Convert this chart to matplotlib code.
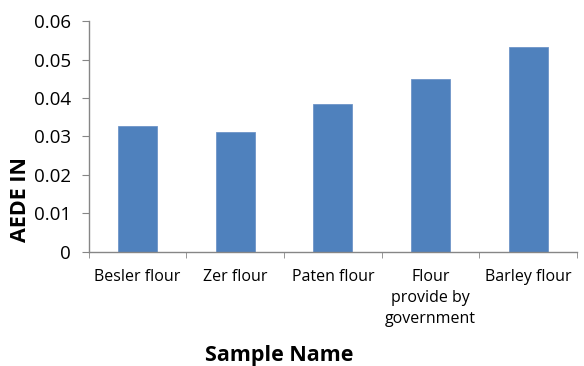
import matplotlib.pyplot as plt
import numpy as np

# AEDE values per flour sample
samples = ["Besler flour", "Zer flour", "Paten flour",
           "Flour\nprovide by\ngovernment", "Barley flour"]
aede = [0.0326, 0.0311, 0.0385, 0.0450, 0.0532]
yticks = [0, 0.01, 0.02, 0.03, 0.04, 0.05, 0.06]
ytick_labels = ["0", "0.01", "0.02", "0.03", "0.04", "0.05", "0.06"]

plt.rcParams["font.family"] = ["Open Sans", "DejaVu Sans"]

fig = plt.figure(figsize=(5.84, 3.66), dpi=100)
ax = fig.add_axes([0.152, 0.3115, 0.836, 0.6311])

x = np.arange(len(samples))
ax.bar(x, aede, width=0.4, color="#4F81BD", edgecolor="#6F95C8", linewidth=0.6)

ax.set_xlim(-0.5, len(samples) - 0.5)
ax.set_ylim(0, 0.06)

# category labels centered, tick marks at category boundaries
ax.set_xticks(x)
ax.set_xticklabels(samples, fontsize=11.5, linespacing=1.45, va="top")
ax.tick_params(axis="x", length=0, pad=12)
ax.set_xticks(np.arange(len(samples) + 1) - 0.5, minor=True)
ax.tick_params(axis="x", which="minor", length=4.5, direction="out", color="#868686")

ax.set_yticks(yticks)
ax.set_yticklabels(ytick_labels, fontsize=13.5)
ax.tick_params(axis="y", length=5, direction="out", color="#868686", pad=8)

for side in ["top", "right"]:
    ax.spines[side].set_visible(False)
for side in ["left", "bottom"]:
    ax.spines[side].set_color("#868686")
    ax.spines[side].set_linewidth(1.0)

fig.text(20 / 584, 1 - 200 / 366, "AEDE IN", rotation=90, fontsize=15.5,
         fontweight="bold", ha="center", va="center")
fig.text(279 / 584, 1 - 355 / 366, "Sample Name", fontsize=15.5,
         fontweight="bold", ha="center", va="center")

fig.savefig("out.png", dpi=100)
